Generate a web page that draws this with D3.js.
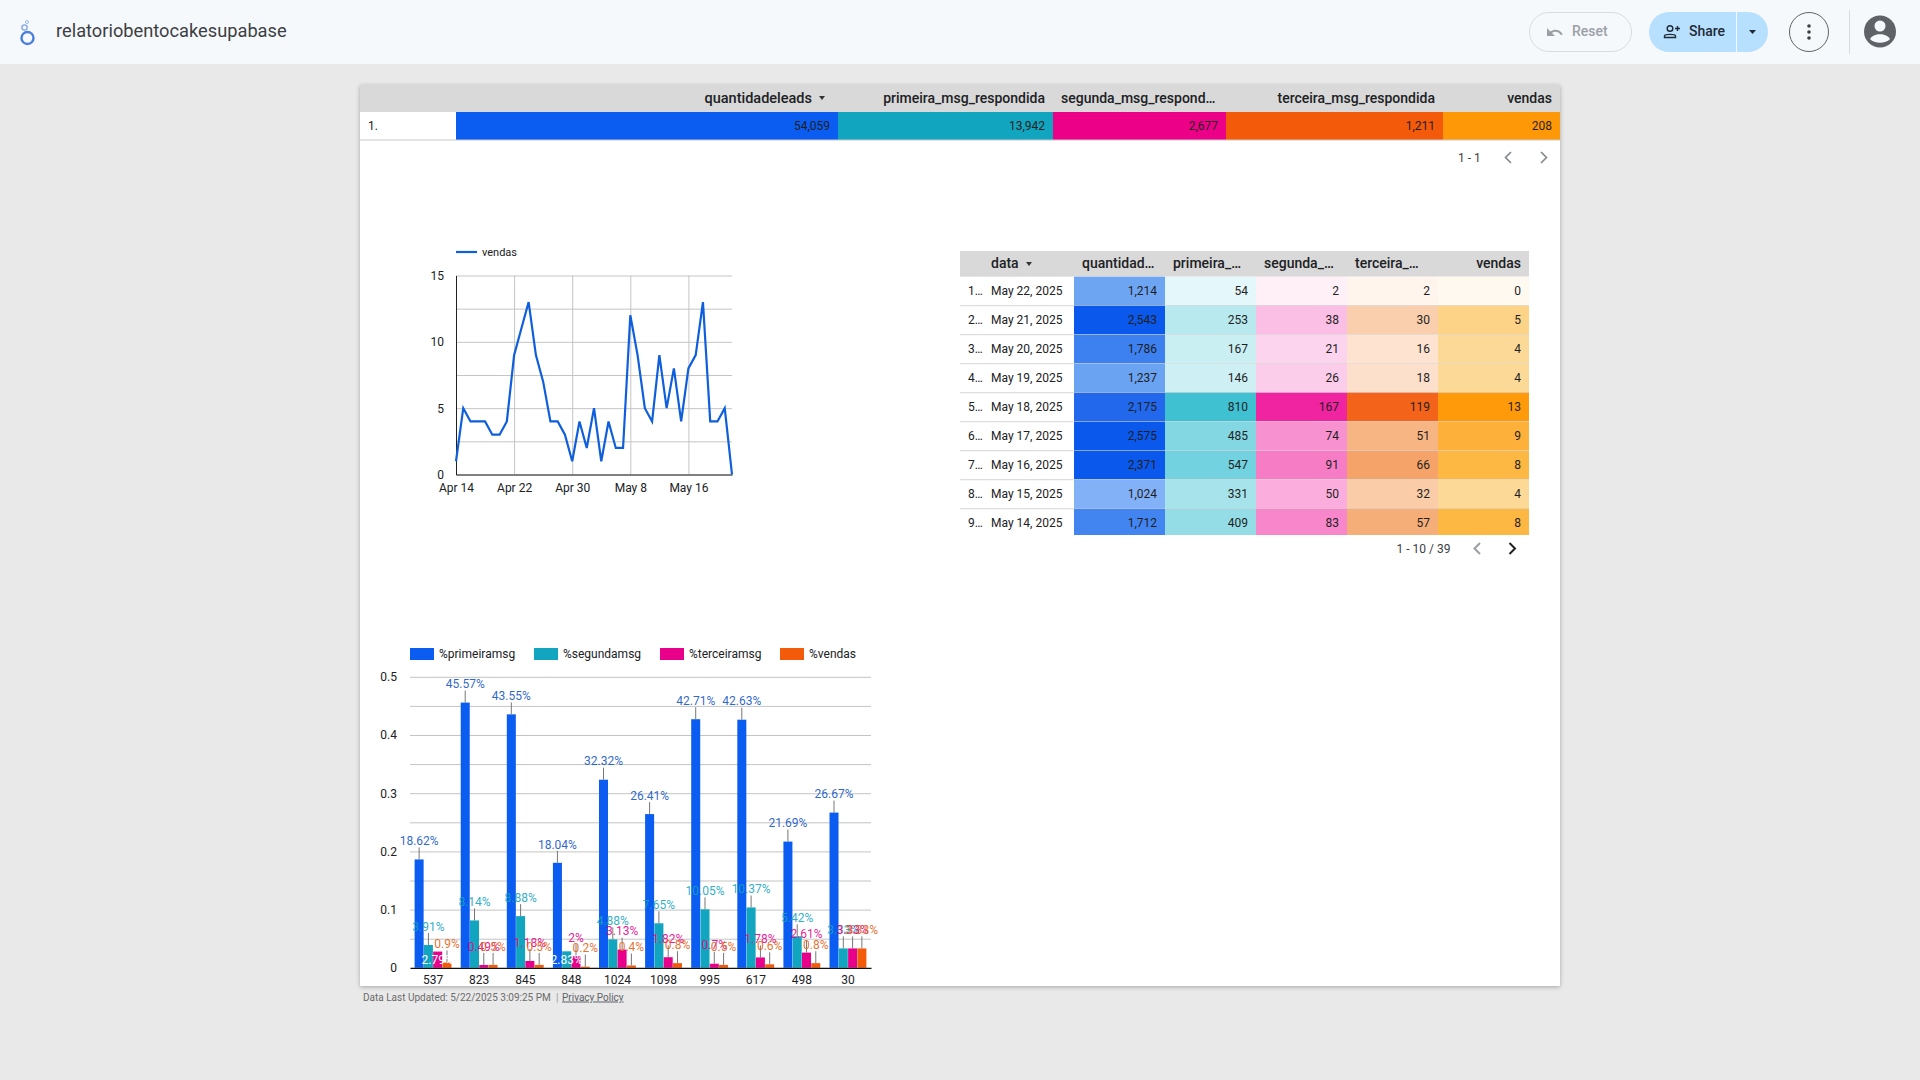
<!DOCTYPE html>
<html>
<head>
<meta charset="utf-8">
<title>relatoriobentocakesupabase</title>
<script src="https://cdn.jsdelivr.net/npm/d3@7"></script>
<style>
  html, body { margin: 0; padding: 0; background: #e9e9e9; overflow: hidden; }
  svg { display: block; font-family: Roboto, sans-serif; }
  text { fill: #202124; }
  .axis text { font-size: 12px; fill: #202124; font-family: Roboto, sans-serif; }
  .grid line { stroke: #c4c4c4; }
  .grid .domain { display: none; }
</style>
</head>
<body>
<svg id="page" width="1920" height="1080"></svg>
<script>
/* ---------- data ---------- */
const totalColumns = ["quantidadeleads", "primeira_msg_respondida", "segunda_msg_respond…", "terceira_msg_respondida", "vendas"];
const totalValues  = [54059, 13942, 2677, 1211, 208];

const dayLabels = [
  "04-14","04-15","04-16","04-17","04-18","04-19","04-20","04-21","04-22","04-23","04-24","04-25","04-26",
  "04-27","04-28","04-29","04-30","05-01","05-02","05-03","05-04","05-05","05-06","05-07","05-08","05-09",
  "05-10","05-11","05-12","05-13","05-14","05-15","05-16","05-17","05-18","05-19","05-20","05-21","05-22",
];
const dailySales = [1,5,4,4,4,3,3,4,9,11,13,9,7,4,4,3,1,4,2,5,1,4,2,2,12,9,5,4,9,5,8,4,8,9,13,4,4,5,0];
const salesTicks = ["04-14","04-22","04-30","05-08","05-16"];

const dailyColumns = ["quantidad…", "primeira_…", "segunda_…", "terceira_…", "vendas"];
const dailyDates   = ["May 22, 2025","May 21, 2025","May 20, 2025","May 19, 2025","May 18, 2025","May 17, 2025","May 16, 2025","May 15, 2025","May 14, 2025"];
const dailyRanks   = ["1…","2…","3…","4…","5…","6…","7…","8…","9…"];
const dailyLeads   = [1214,2543,1786,1237,2175,2575,2371,1024,1712];
const dailyFirst   = [54,253,167,146,810,485,547,331,409];
const dailySecond  = [2,38,21,26,167,74,91,50,83];
const dailyThird   = [2,30,16,18,119,51,66,32,57];
const dailySold    = [0,5,4,4,13,9,8,4,8];

const barCategories = ["537","823","845","848","1024","1098","995","617","498","30"];
const barSeries     = ["%primeiramsg","%segundamsg","%terceiramsg","%vendas"];
const pctFirst  = [18.62,45.57,43.55,18.04,32.32,26.41,42.71,42.63,21.69,26.67];
const pctSecond = [3.91,8.14,8.88,2.83,4.88,7.65,10.05,10.37,5.42,3.33];
const pctThird  = [2.79,0.49,1.18,2,3.13,1.82,0.7,1.78,2.61,3.33];
const pctSales  = [0.9,0.5,0.5,0.2,0.4,0.8,0.5,0.6,0.8,3.33];
// labels that sit inside their bar instead of on a leader: "category/series"
const insideLabels = ["537/%terceiramsg", "848/%segundamsg"];

/* ---------- colours ---------- */
const seriesColors = ["#0b5cf0", "#12a5bf", "#e8008a", "#f35a0a"];
const labelColors  = ["#0f55c8", "#12a5bf", "#e8008a", "#e8600f"];
const totalColors  = ["#0b5cf0", "#12a5bf", "#ed0088", "#f35a0a", "#ff9807"];

// heat colours of the daily table at a few values per column
const heatColumns = [
  { values: dailyLeads,  stops: [1024,1237,1786,2175,2371],   colors: ["#82b1f7","#6ba3f3","#3d80f0","#2168ec","#0b59ec"] },
  { values: dailyFirst,  stops: [54,167,331,547,810],         colors: ["#e4f7fa","#c9eff3","#a6e3ea","#73d2e0","#40c1d2"] },
  { values: dailySecond, stops: [2,26,50,91,167],             colors: ["#fff0f8","#fbcdeb","#fbaedd","#f67cc6","#f023a0"] },
  { values: dailyThird,  stops: [2,18,32,66,119],             colors: ["#fff5ed","#fde0cc","#facca8","#f5a368","#f3641a"] },
  { values: dailySold,   stops: [0,4,5,8,9,13],               colors: ["#fff9f0","#fdd998","#fdd387","#fdb743","#fdb13a","#ff9a0a"] },
];

const fmt = d3.format(",");
const parseDay = s => new Date(2025, +s.slice(0, 2) - 1, +s.slice(3));

const svg = d3.select("#page");

function label(g, x, y, str, opts = {}) {
  return g.append("text")
    .attr("x", x).attr("y", y).attr("dy", ".35em")
    .attr("text-anchor", opts.anchor || "start")
    .style("font-size", (opts.size || 12) + "px")
    .style("font-weight", opts.weight || 400)
    .style("fill", opts.fill || "#202124")
    .text(str);
}

function chevron(g, cx, cy, dir, color, weight = 1.6) {
  g.append("path")
    .attr("d", `M${cx - dir * 3},${cy - 5.5}L${cx + dir * 2.5},${cy}L${cx - dir * 3},${cy + 5.5}`)
    .attr("fill", "none").attr("stroke", color).attr("stroke-width", weight);
}

function sortCaret(g, cx, cy) {
  g.append("path").attr("d", `M${cx - 3},${cy - 2}h6l-3,4z`).attr("fill", "#333");
}

drawHeader();
svg.append("defs").append("filter").attr("id", "card-shadow")
  .attr("x", "-2%").attr("y", "-2%").attr("width", "104%").attr("height", "104%")
  .append("feDropShadow").attr("dx", 0).attr("dy", 1).attr("stdDeviation", 2).attr("flood-color", "#000").attr("flood-opacity", 0.3);
svg.append("rect").attr("x", 360).attr("y", 85).attr("width", 1200).attr("height", 901)
  .attr("fill", "#fff").attr("filter", "url(#card-shadow)");

drawTotalTable();
drawSalesLine();
drawDailyTable();
drawBars();
drawFooter();

function drawHeader() {
  const g = svg.append("g");
  g.append("rect").attr("width", 1920).attr("height", 64).attr("fill", "#f6f9fc");

  // logo
  g.append("circle").attr("cx", 27.5).attr("cy", 38).attr("r", 6).attr("fill", "none").attr("stroke", "#4a7fe0").attr("stroke-width", 2.4);
  g.append("circle").attr("cx", 24.5).attr("cy", 27.5).attr("r", 2.6).attr("fill", "none").attr("stroke", "#7da4e8").attr("stroke-width", 1.3);
  g.append("circle").attr("cx", 27).attr("cy", 22).attr("r", 1.5).attr("fill", "none").attr("stroke", "#9db9ec").attr("stroke-width", 1);

  label(g, 56, 31, "relatoriobentocakesupabase", { size: 18.25, fill: "#3c4043" });

  // reset
  g.append("rect").attr("x", 1529.5).attr("y", 12.5).attr("width", 102).attr("height", 39).attr("rx", 19.5)
    .attr("fill", "none").attr("stroke", "#dadce0");
  g.append("path").attr("d", "M1547,28v8h8l-3,-3c2.4,-2 6.5,-1.8 9,2.2l1.8,-1c-3,-5 -8.4,-5.6 -12.4,-2.8z").attr("fill", "#9aa0a6");
  label(g, 1572, 31.5, "Reset", { size: 14, weight: 500, fill: "#9aa0a6" });

  // share
  g.append("rect").attr("x", 1649).attr("y", 12).attr("width", 119).attr("height", 40).attr("rx", 20).attr("fill", "#b6e0fe");
  g.append("line").attr("x1", 1736.5).attr("x2", 1736.5).attr("y1", 12).attr("y2", 52).attr("stroke", "#f6f9fc");
  g.append("circle").attr("cx", 1670).attr("cy", 28.5).attr("r", 2.8).attr("fill", "none").attr("stroke", "#1f2a37").attr("stroke-width", 1.4);
  g.append("path").attr("d", "M1664.5,37.5v-1.5c0,-2.2 11,-2.2 11,0v1.5z").attr("fill", "none").attr("stroke", "#1f2a37").attr("stroke-width", 1.4);
  g.append("path").attr("d", "M1675,28.5h5M1677.5,26v5").attr("stroke", "#1f2a37").attr("stroke-width", 1.4);
  label(g, 1689, 31.5, "Share", { size: 14, weight: 500, fill: "#1f2a37" });
  g.append("path").attr("d", "M1749,30h7l-3.5,4z").attr("fill", "#1f2a37");

  // more menu
  g.append("circle").attr("cx", 1809).attr("cy", 32).attr("r", 19.5).attr("fill", "none").attr("stroke", "#5f6368");
  g.selectAll(null).data([26, 32, 38]).join("circle")
    .attr("cx", 1809).attr("cy", d => d).attr("r", 1.8).attr("fill", "#3c4043");
  g.append("line").attr("x1", 1849.5).attr("x2", 1849.5).attr("y1", 10).attr("y2", 54).attr("stroke", "#dadce0");

  // avatar
  g.append("circle").attr("cx", 1880).attr("cy", 31.5).attr("r", 16).attr("fill", "#5f6368");
  g.append("circle").attr("cx", 1880).attr("cy", 26).attr("r", 5.5).attr("fill", "#f6f9fc");
  g.append("path").attr("d", "M1870,39c3,-6.5 17,-6.5 20,0c-4.5,5 -15.5,5 -20,0z").attr("fill", "#f6f9fc");
}

function drawTotalTable() {
  const g = svg.append("g");
  const edges = [456, 838, 1053, 1226, 1443, 1560];
  g.append("rect").attr("x", 360).attr("y", 85).attr("width", 1200).attr("height", 27).attr("fill", "#d9d9d9");

  totalColumns.forEach((name, i) => {
    const right = edges[i + 1] - 8;
    g.append("rect").attr("x", edges[i]).attr("y", 112).attr("width", edges[i + 1] - edges[i]).attr("height", 28).attr("fill", totalColors[i]);
    label(g, right, 126, fmt(totalValues[i]), { anchor: "end", fill: "#1f1f1f" });
    if (i === 0) {
      label(g, right - 18, 98, name, { anchor: "end", size: 14.5, weight: 500 });
      sortCaret(g, right - 8, 98);
    } else if (name.endsWith("…")) {
      label(g, edges[i] + 8, 98, name, { size: 14, weight: 500 });
    } else {
      label(g, right, 98, name, { anchor: "end", size: 14, weight: 500 });
    }
  });
  label(g, 368, 126, "1.");
  g.append("line").attr("x1", 360).attr("x2", 1560).attr("y1", 140).attr("y2", 140).attr("stroke", "#c8c8c8");

  label(g, 1458, 157.5, "1 - 1", { fill: "#3c4043" });
  chevron(g, 1508, 157.5, -1, "#80868b");
  chevron(g, 1544, 157.5, 1, "#80868b");
}

function drawSalesLine() {
  const g = svg.append("g");
  const left = 456, right = 732, top = 275.5, bottom = 474.5;
  const dates = dayLabels.map(parseDay);

  const x = d3.scaleTime().domain(d3.extent(dates)).range([left, right]);
  const y = d3.scaleLinear().domain([0, 15]).range([bottom, top]);

  g.append("g").attr("class", "grid").attr("transform", `translate(${left},0)`)
    .call(d3.axisLeft(y).tickValues(d3.range(0, 15.1, 2.5)).tickSize(left - right).tickFormat(""));
  g.append("g").attr("class", "grid").attr("transform", `translate(0,${bottom})`)
    .call(d3.axisBottom(x).tickValues(salesTicks.slice(1).map(parseDay)).tickSize(top - bottom).tickFormat(""));

  const yAxis = g.append("g").attr("class", "axis").attr("transform", `translate(${left},0)`)
    .call(d3.axisLeft(y).tickValues([0, 5, 10, 15]).tickSize(0).tickPadding(12));
  yAxis.select(".domain").attr("stroke", "#202124");

  const xAxis = g.append("g").attr("class", "axis").attr("transform", `translate(0,${bottom})`)
    .call(d3.axisBottom(x).tickValues(salesTicks.map(parseDay)).tickSize(0).tickPadding(8.5).tickFormat(d3.timeFormat("%b %-d")));
  xAxis.select(".domain").attr("stroke", "#202124");

  g.append("path").datum(dailySales)
    .attr("fill", "none").attr("stroke", "#0f5fdc").attr("stroke-width", 2.2)
    .attr("d", d3.line().x((d, i) => x(dates[i])).y(d => y(d)));

  g.append("line").attr("x1", 456).attr("x2", 477).attr("y1", 252).attr("y2", 252).attr("stroke", "#0f5fdc").attr("stroke-width", 2.2);
  label(g, 482, 252, "vendas", { size: 11 });
}

function drawDailyTable() {
  const g = svg.append("g");
  const edges = [1074, 1165, 1256, 1347, 1438, 1529];
  const rowH = 29, headTop = 251, headBottom = 276.7, tableEnd = 535;

  g.append("rect").attr("x", 960).attr("y", headTop).attr("width", 569).attr("height", headBottom - headTop).attr("fill", "#d9d9d9");
  label(g, 991, 263.5, "data", { size: 14, weight: 500 });
  sortCaret(g, 1029, 264);
  dailyColumns.forEach((name, i) => {
    if (name.endsWith("…")) label(g, edges[i] + 8, 263.5, name, { size: 14, weight: 500 });
    else label(g, edges[i + 1] - 8, 263.5, name, { anchor: "end", size: 14, weight: 500 });
  });

  const rowY = i => headBottom + i * rowH;
  dailyDates.forEach((date, r) => {
    const h = Math.min(rowH, tableEnd - rowY(r));
    const cy = rowY(r) + 14;
    label(g, 968, cy, dailyRanks[r]);
    label(g, 991, cy, date);
    heatColumns.forEach((col, c) => {
      const heat = d3.scaleLinear().domain(col.stops).range(col.colors).clamp(true);
      g.append("rect").attr("x", edges[c]).attr("y", rowY(r)).attr("width", edges[c + 1] - edges[c]).attr("height", h)
        .attr("fill", heat(col.values[r]));
      label(g, edges[c + 1] - 8, cy, fmt(col.values[r]), { anchor: "end", fill: "#1f1f1f" });
    });
    if (r < dailyDates.length - 1) {
      g.append("line").attr("x1", 960).attr("x2", 1529).attr("y1", rowY(r + 1)).attr("y2", rowY(r + 1))
        .attr("stroke", "#d6d6d6");
    }
  });

  label(g, 1396.5, 548.5, "1 - 10 / 39", { fill: "#3c4043" });
  chevron(g, 1477, 548.5, -1, "#9aa0a6", 2);
  chevron(g, 1512.5, 548.5, 1, "#202124", 2);
}

function drawBars() {
  const g = svg.append("g");
  const left = 410, right = 871, top = 676.8, bottom = 967.8;
  const seriesValues = [pctFirst, pctSecond, pctThird, pctSales];

  const x0 = d3.scaleBand().domain(barCategories).range([left, right]).paddingInner(0.2).paddingOuter(0.1);
  const x1 = d3.scaleBand().domain(barSeries).range([0, x0.bandwidth()]).paddingInner(0.03);
  const y  = d3.scaleLinear().domain([0, 0.5]).range([bottom, top]);

  g.append("g").attr("class", "grid").attr("transform", `translate(${left},0)`)
    .call(d3.axisLeft(y).tickValues(d3.range(0.05, 0.501, 0.05)).tickSize(left - right).tickFormat(""));

  const yAxis = g.append("g").attr("class", "axis").attr("transform", `translate(${left},0)`)
    .call(d3.axisLeft(y).tickValues([0, 0.1, 0.2, 0.3, 0.4, 0.5]).tickSize(0).tickPadding(13).tickFormat(d => d === 0 ? "0" : d3.format(".1f")(d)));
  yAxis.select(".domain").remove();

  const cells = barCategories.flatMap((cat, c) => barSeries.map((s, i) => ({
    cat, series: s, color: seriesColors[i], textColor: labelColors[i], value: seriesValues[i][c] / 100,
    text: seriesValues[i][c] + "%",
    inside: insideLabels.includes(cat + "/" + s),
  })));
  const centre = d => x0(d.cat) + x1(d.series) + x1.bandwidth() / 2;

  g.append("g").selectAll("rect").data(cells).join("rect")
    .attr("x", d => x0(d.cat) + x1(d.series))
    .attr("y", d => y(d.value))
    .attr("width", x1.bandwidth())
    .attr("height", d => bottom - y(d.value))
    .attr("fill", d => d.color);

  const xAxis = g.append("g").attr("class", "axis").attr("transform", `translate(0,${bottom})`)
    .call(d3.axisBottom(x0).tickSize(0).tickPadding(7.5));
  xAxis.select(".domain").attr("stroke", "#111").attr("stroke-width", 1.2);

  g.append("g").selectAll("line").data(cells.filter(d => !d.inside)).join("line")
    .attr("x1", centre).attr("x2", centre)
    .attr("y1", d => y(d.value)).attr("y2", d => y(d.value) - 12)
    .attr("stroke", "#777");

  g.append("g").selectAll("text").data(cells).join("text")
    .attr("x", centre)
    .attr("y", d => d.inside ? (y(d.value) + bottom) / 2 : y(d.value) - 18.5)
    .attr("dy", ".35em").attr("text-anchor", "middle")
    .style("font-size", "12px")
    .style("fill", d => d.inside ? "#fff" : d.textColor)
    .style("fill-opacity", d => d.inside ? 1 : 0.9)
    .text(d => d.text);

  // legend
  const legendX = [410, 534, 660, 780];
  barSeries.forEach((s, i) => {
    g.append("rect").attr("x", legendX[i]).attr("y", 648).attr("width", 24).attr("height", 12).attr("fill", seriesColors[i]);
    label(g, legendX[i] + 29, 654, s);
  });
}

function drawFooter() {
  const g = svg.append("g");
  label(g, 363, 997, "Data Last Updated: 5/22/2025 3:09:25 PM", { size: 10, fill: "#6b6b6b" });
  label(g, 556, 997, "|", { size: 10, fill: "#9a9a9a" });
  label(g, 562, 997, "Privacy Policy", { size: 10, fill: "#5f6368" }).style("text-decoration", "underline");
}
</script>
</body>
</html>
